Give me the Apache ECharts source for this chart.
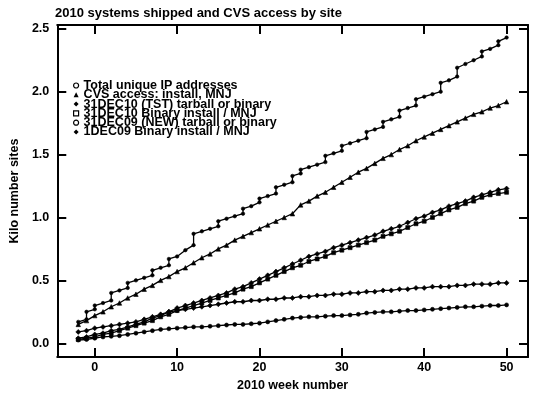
<!DOCTYPE html>
<html lang="en">
<head>
    <meta charset="UTF-8">
    <title>Echarts</title>
    <script type="text/javascript" src="https://cdn.jsdelivr.net/npm/echarts@6/dist/echarts.min.js"></script>
    <style>
        body { margin: 0; background: #fff; }
    </style>
</head>
<body>
<div id="main" style="width: 540px; height: 397px;"></div>

<script type="text/javascript">
    // week numbers (x) for the weekly series
    var weeks = [-2, -1, 0, 1, 2, 3, 4, 5, 6, 7, 8, 9, 10, 11, 12, 13, 14, 15, 16, 17, 18, 19, 20,
        21, 22, 23, 24, 25, 26, 27, 28, 29, 30, 31, 32, 33, 34, 35, 36, 37, 38, 39, 40,
        41, 42, 43, 44, 45, 46, 47, 48, 49, 50];

    // total unique IP: stepped, so some weeks appear twice (bottom and top of the jump)
    var totalWeeks = [-2, -1, -1, 0, 0, 1, 2, 2, 3, 4, 4, 5, 6, 7, 7, 8, 9, 9, 10, 11, 12, 12,
        13, 14, 15, 15, 16, 17, 18, 18, 19, 20, 20, 21, 22, 22, 23, 24, 24, 25, 25, 26, 27,
        28, 28, 29, 30, 30, 31, 32, 33, 33, 34, 35, 35, 36, 37, 37, 38, 39, 39, 40, 41,
        42, 42, 43, 44, 44, 45, 46, 47, 47, 48, 49, 49, 50];
    var totalIP = [0.17, 0.19, 0.25, 0.27, 0.30, 0.32, 0.34, 0.40, 0.42, 0.44, 0.48, 0.50, 0.52, 0.54, 0.58,
        0.60, 0.62, 0.67, 0.69, 0.74, 0.78, 0.87,
        0.89, 0.91, 0.93, 0.97, 0.99, 1.01, 1.03, 1.07, 1.09, 1.12, 1.15, 1.17, 1.19, 1.24, 1.26, 1.28, 1.33,
        1.35, 1.38, 1.40, 1.42, 1.44, 1.49, 1.51, 1.53, 1.57, 1.59, 1.61, 1.63, 1.68, 1.70, 1.72, 1.76,
        1.78, 1.80, 1.85, 1.87, 1.89, 1.94, 1.96, 1.98, 2.00, 2.07, 2.09, 2.12, 2.19, 2.22, 2.25,
        2.28, 2.32, 2.34, 2.37, 2.40, 2.43];

    var cvsAccess = [0.15, 0.18, 0.22, 0.25, 0.29, 0.32, 0.36, 0.39, 0.43, 0.46, 0.50, 0.53, 0.57, 0.60,
        0.64, 0.68, 0.71, 0.75, 0.78, 0.82, 0.85, 0.88, 0.91, 0.94, 0.97, 1.00, 1.03, 1.10, 1.13,
        1.17, 1.20, 1.24, 1.28, 1.32, 1.36, 1.39, 1.43, 1.47, 1.50, 1.54, 1.57, 1.61, 1.64, 1.67,
        1.70, 1.73, 1.76, 1.79, 1.82, 1.84, 1.87, 1.89, 1.92];

    var tst10 = [0.04, 0.05, 0.07, 0.08, 0.10, 0.11, 0.13, 0.15, 0.17, 0.20, 0.22, 0.25, 0.28, 0.30,
        0.32, 0.34, 0.36, 0.38, 0.40, 0.43, 0.45, 0.48, 0.51, 0.54, 0.57, 0.60, 0.63, 0.66, 0.69,
        0.71, 0.73, 0.76, 0.78, 0.80, 0.82, 0.84, 0.86, 0.89, 0.91, 0.93, 0.96, 0.99, 1.01, 1.04,
        1.06, 1.09, 1.11, 1.13, 1.16, 1.18, 1.20, 1.22, 1.23];

    var binary10 = [0.03, 0.04, 0.05, 0.07, 0.08, 0.10, 0.12, 0.14, 0.16, 0.18, 0.21, 0.23, 0.26, 0.28,
        0.30, 0.32, 0.34, 0.36, 0.38, 0.40, 0.43, 0.45, 0.48, 0.51, 0.54, 0.57, 0.60, 0.62, 0.65,
        0.67, 0.69, 0.72, 0.74, 0.76, 0.78, 0.80, 0.82, 0.85, 0.87, 0.89, 0.92, 0.95, 0.97, 1.00,
        1.03, 1.06, 1.08, 1.11, 1.13, 1.16, 1.18, 1.19, 1.20];

    var new09 = [0.025, 0.03, 0.04, 0.05, 0.055, 0.06, 0.07, 0.08, 0.09, 0.10, 0.11, 0.115, 0.12, 0.125,
        0.13, 0.13, 0.135, 0.14, 0.145, 0.15, 0.15, 0.155, 0.16, 0.17, 0.18, 0.19, 0.20, 0.205, 0.21,
        0.21, 0.215, 0.22, 0.22, 0.225, 0.23, 0.24, 0.245, 0.25, 0.25, 0.255, 0.26, 0.26, 0.265, 0.27,
        0.275, 0.28, 0.285, 0.29, 0.29, 0.295, 0.30, 0.30, 0.305];

    var binary09 = [0.09, 0.10, 0.12, 0.13, 0.14, 0.15, 0.16, 0.17, 0.19, 0.21, 0.23, 0.25, 0.26, 0.27,
        0.28, 0.29, 0.30, 0.31, 0.32, 0.33, 0.33, 0.34, 0.34, 0.35, 0.35, 0.36, 0.36, 0.37, 0.37,
        0.38, 0.38, 0.39, 0.39, 0.40, 0.40, 0.41, 0.41, 0.42, 0.42, 0.43, 0.43, 0.44, 0.44, 0.45,
        0.45, 0.45, 0.46, 0.46, 0.47, 0.47, 0.47, 0.48, 0.48];

    var seriesNames = ['Total unique IP addresses', 'CVS access: install, MNJ',
        '31DEC10 (TST) tarball or binary', '31DEC10 Binary install / MNJ',
        '31DEC09 (NEW) tarball or binary', '1DEC09 Binary install / MNJ'];

    var xTicks = [0, 10, 20, 30, 40, 50];
    var yTicks = [0, 0.5, 1, 1.5, 2, 2.5];

    function pairs(xs, ys) {
        var out = [];
        for (var i = 0; i < ys.length; i++) {
            out.push([xs[i], ys[i]]);
        }
        return out;
    }

    var FONT = 'Liberation Sans, Arial, sans-serif';
    var myChart = echarts.init(document.getElementById('main'));

    function lineSeries(name, data, symbol, size) {
        return {
            name: name,
            type: 'line',
            data: data,
            symbol: symbol,
            symbolSize: size,
            showAllSymbol: true,
            animation: false,
            lineStyle: { color: '#000', width: 1.3 },
            itemStyle: { color: '#000', borderColor: '#000', borderWidth: 0.6 },
            emphasis: { disabled: true }
        };
    }

    var openIcon = { color: '#fff', borderColor: '#000', borderWidth: 1.2 };
    var solidIcon = { color: '#000', borderWidth: 0 };

    var axisCommon = {
        type: 'value',
        axisLine: { show: true, onZero: false, lineStyle: { color: '#000', width: 2 } },
        axisTick: { show: true, inside: true, length: 9, lineStyle: { color: '#000', width: 2 } },
        splitLine: { show: false }
    };

    myChart.setOption({
        animation: false,
        title: {
            text: '2010 systems shipped and CVS access by site',
            left: 55,
            top: 7,
            padding: 0,
            textStyle: { fontFamily: FONT, fontSize: 13, fontWeight: 'bold', color: '#000' }
        },
        legend: {
            orient: 'vertical',
            left: 73,
            top: 79,
            padding: 0,
            itemGap: -3.7,
            itemWidth: 5,
            itemHeight: 5,
            textStyle: { fontFamily: FONT, fontSize: 12.5, fontWeight: 'bold', color: '#000' },
            data: [
                { name: seriesNames[0], icon: 'circle', itemStyle: openIcon },
                { name: seriesNames[1], icon: 'triangle', itemStyle: solidIcon },
                { name: seriesNames[2], icon: 'diamond', itemStyle: solidIcon },
                { name: seriesNames[3], icon: 'rect', itemStyle: openIcon },
                { name: seriesNames[4], icon: 'circle', itemStyle: openIcon },
                { name: seriesNames[5], icon: 'diamond', itemStyle: solidIcon }
            ]
        },
        grid: { left: 55, right: 12, top: 25, bottom: 38, containLabel: false },
        xAxis: [
            Object.assign({}, axisCommon, {
                position: 'bottom',
                min: -4.55, max: 52.6,
                axisTick: Object.assign({}, axisCommon.axisTick, { customValues: xTicks }),
                axisLabel: { customValues: xTicks, margin: 4, color: '#000', fontFamily: FONT, fontSize: 12.5, fontWeight: 'bold' },
                name: '2010 week number',
                nameLocation: 'middle',
                nameGap: 16,
                nameTextStyle: { fontFamily: FONT, fontSize: 12.5, fontWeight: 'bold', color: '#000' }
            }),
            Object.assign({}, axisCommon, {
                position: 'top',
                min: -4.55, max: 52.6,
                axisTick: Object.assign({}, axisCommon.axisTick, { customValues: xTicks }),
                axisLabel: { show: false }
            })
        ],
        yAxis: [
            Object.assign({}, axisCommon, {
                position: 'left',
                min: -0.11, max: 2.53,
                axisTick: Object.assign({}, axisCommon.axisTick, { customValues: yTicks }),
                axisLabel: {
                    customValues: yTicks, margin: 8, color: '#000', fontFamily: FONT, fontSize: 12.5, fontWeight: 'bold',
                    formatter: function (v) { return v.toFixed(1); }
                },
                name: 'Kilo number sites',
                nameLocation: 'middle',
                nameRotate: 90,
                nameGap: 29,
                nameTextStyle: { fontFamily: FONT, fontSize: 12.5, fontWeight: 'bold', color: '#000' }
            }),
            Object.assign({}, axisCommon, {
                position: 'right',
                min: -0.11, max: 2.53,
                axisTick: Object.assign({}, axisCommon.axisTick, { customValues: yTicks }),
                axisLabel: { show: false }
            })
        ],
        series: [
            lineSeries(seriesNames[0], pairs(totalWeeks, totalIP), 'circle', 3.5),
            lineSeries(seriesNames[1], pairs(weeks, cvsAccess), 'triangle', 4.5),
            lineSeries(seriesNames[2], pairs(weeks, tst10), 'diamond', 5),
            lineSeries(seriesNames[3], pairs(weeks, binary10), 'rect', 4),
            lineSeries(seriesNames[4], pairs(weeks, new09), 'circle', 4),
            lineSeries(seriesNames[5], pairs(weeks, binary09), 'diamond', 5)
        ]
    });
</script>
</body>
</html>
